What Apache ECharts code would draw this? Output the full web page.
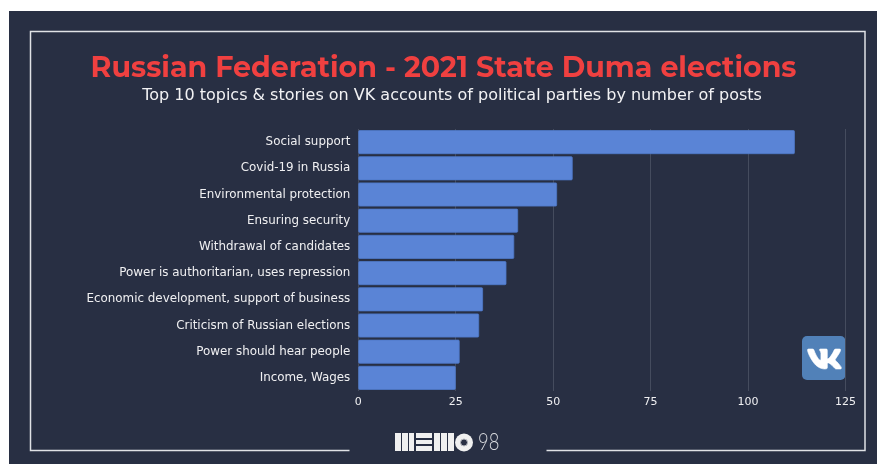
<!DOCTYPE html>
<html><head><meta charset="utf-8">
<style>html,body{margin:0;padding:0;background:#fff;overflow:hidden}#c{width:877px;height:464px}</style>
<script src="https://cdn.jsdelivr.net/npm/echarts@6/dist/echarts.min.js"></script>
</head><body><div id="c"></div>
<script>
var categories = ["Social support","Covid-19 in Russia","Environmental protection","Ensuring security","Withdrawal of candidates","Power is authoritarian, uses repression","Economic development, support of business","Criticism of Russian elections","Power should hear people","Income, Wages"];
var posts = [112,55,51,41,40,38,32,31,26,25];
var xTicks = {min:0,max:125,interval:25};
var titleText = "Russian Federation - 2021 State Duma elections";
var subtitleText = "Top 10 topics & stories on VK accounts of political parties by number of posts";
var bg = "#282f43";
var vkPath = "M19.376 17.123h-1.744c-.66 0-.864-.525-2.05-1.727-1.033-1-1.49-1.135-1.744-1.135-.356 0-.458.102-.458.593v1.575c0 .424-.135.678-1.253.678-1.846 0-3.896-1.118-5.335-3.202C4.624 10.857 4.03 8.57 4.03 8.096c0-.254.102-.491.593-.491h1.744c.44 0 .61.203.78.677.863 2.49 2.303 4.675 2.896 4.675.22 0 .322-.102.322-.66V9.721c-.068-1.186-.695-1.287-.695-1.71 0-.204.17-.407.44-.407h2.744c.373 0 .508.203.508.643v3.473c0 .372.17.508.271.508.22 0 .407-.136.813-.542 1.254-1.406 2.151-3.574 2.151-3.574.119-.254.322-.491.763-.491h1.744c.525 0 .644.27.525.643-.22 1.017-2.354 4.031-2.354 4.031-.186.305-.254.44 0 .78.186.254.796.779 1.203 1.253.745.847 1.32 1.558 1.473 2.05.17.49-.085.744-.576.744z";
echarts.graphic.registerShape('vkLogo', echarts.graphic.extendPath(vkPath, {}));
var chart = echarts.init(document.getElementById('c'),null,{renderer:'canvas'});
chart.setOption({
  animation:false,
  backgroundColor:'#fff',
  graphic:[
    {type:'rect',z:-10,shape:{x:9,y:11,width:868,height:453},style:{fill:bg}},
    {type:'polyline',z:-9,shape:{points:[[349.5,450.5],[30.5,450.5],[30.5,31.5],[865,31.5],[865,450.5],[546.5,450.5]]},style:{fill:null,stroke:'#e0e2e6',lineWidth:1.5}},
    {type:'group',x:802,y:336,z:10,children:[
      {type:'rect',shape:{x:0,y:0,width:43.5,height:44,r:5},style:{fill:'#5181b8'}},
      {type:'vkLogo',x:-3.04,y:-2.96,scaleX:2.12,scaleY:2.1,style:{fill:'#fff',stroke:'#fff',lineWidth:0.3}}
    ]},
    {type:'group',x:395,y:433,children:[
      {type:'rect',shape:{x:0,y:0,width:6,height:18},style:{fill:'#f0f0f0'}},
      {type:'rect',shape:{x:7,y:0,width:6,height:18},style:{fill:'#f0f0f0'}},
      {type:'rect',shape:{x:14,y:0,width:5,height:18},style:{fill:'#f0f0f0'}},
      {type:'rect',shape:{x:21,y:0,width:16,height:5},style:{fill:'#f0f0f0'}},
      {type:'rect',shape:{x:21,y:7,width:16,height:4},style:{fill:'#f0f0f0'}},
      {type:'rect',shape:{x:21,y:13,width:16,height:5},style:{fill:'#f0f0f0'}},
      {type:'rect',shape:{x:39,y:0,width:6,height:18},style:{fill:'#f0f0f0'}},
      {type:'rect',shape:{x:46,y:0,width:6,height:18},style:{fill:'#f0f0f0'}},
      {type:'rect',shape:{x:53,y:0,width:6,height:18},style:{fill:'#f0f0f0'}},
      {type:'circle',shape:{cx:69,cy:9.5,r:9},style:{fill:'#f0f0f0'}},
      {type:'circle',shape:{cx:69,cy:9.5,r:3.5},style:{fill:bg,stroke:'#b8bac0',lineWidth:1}},
      {type:'text',x:83,y:10,scaleX:0.8,style:{x:0,y:0,text:'98',fill:'#d8dade',font:'300 23px Lato',verticalAlign:'middle',align:'left'}}
    ]}
  ],
  title:[
    {text:titleText,left:438.5,top:49,textAlign:'center',textStyle:{color:'#f04040',fontFamily:'Montserrat, "Open Sans"',fontWeight:'bold',fontSize:28.5}},
    {text:subtitleText,left:447,top:83,textAlign:'center',textStyle:{color:'#f2f2f4',fontFamily:'"DejaVu Sans"',fontWeight:'normal',fontSize:16}}
  ],
  grid:{left:358.3,right:31.5,top:129,height:262,containLabel:false},
  xAxis:{type:'value',min:xTicks.min,max:xTicks.max,interval:xTicks.interval,
    axisLine:{show:false},axisTick:{show:false},
    axisLabel:{color:'#f0f0f2',fontFamily:'"DejaVu Sans"',fontSize:11,margin:6},
    splitLine:{show:true,lineStyle:{color:'#454c5e',width:1}}},
  yAxis:{type:'category',inverse:true,data:categories,
    axisLine:{show:false},axisTick:{show:false},
    axisLabel:{color:'#f0f0f2',fontFamily:'"DejaVu Sans"',fontSize:11.9,margin:8}},
  series:[{type:'bar',data:posts,barWidth:24,
    itemStyle:{color:'#5a84d6',borderRadius:1,borderColor:'#4e78c8',borderWidth:0.8}}]
});
</script></body></html>
